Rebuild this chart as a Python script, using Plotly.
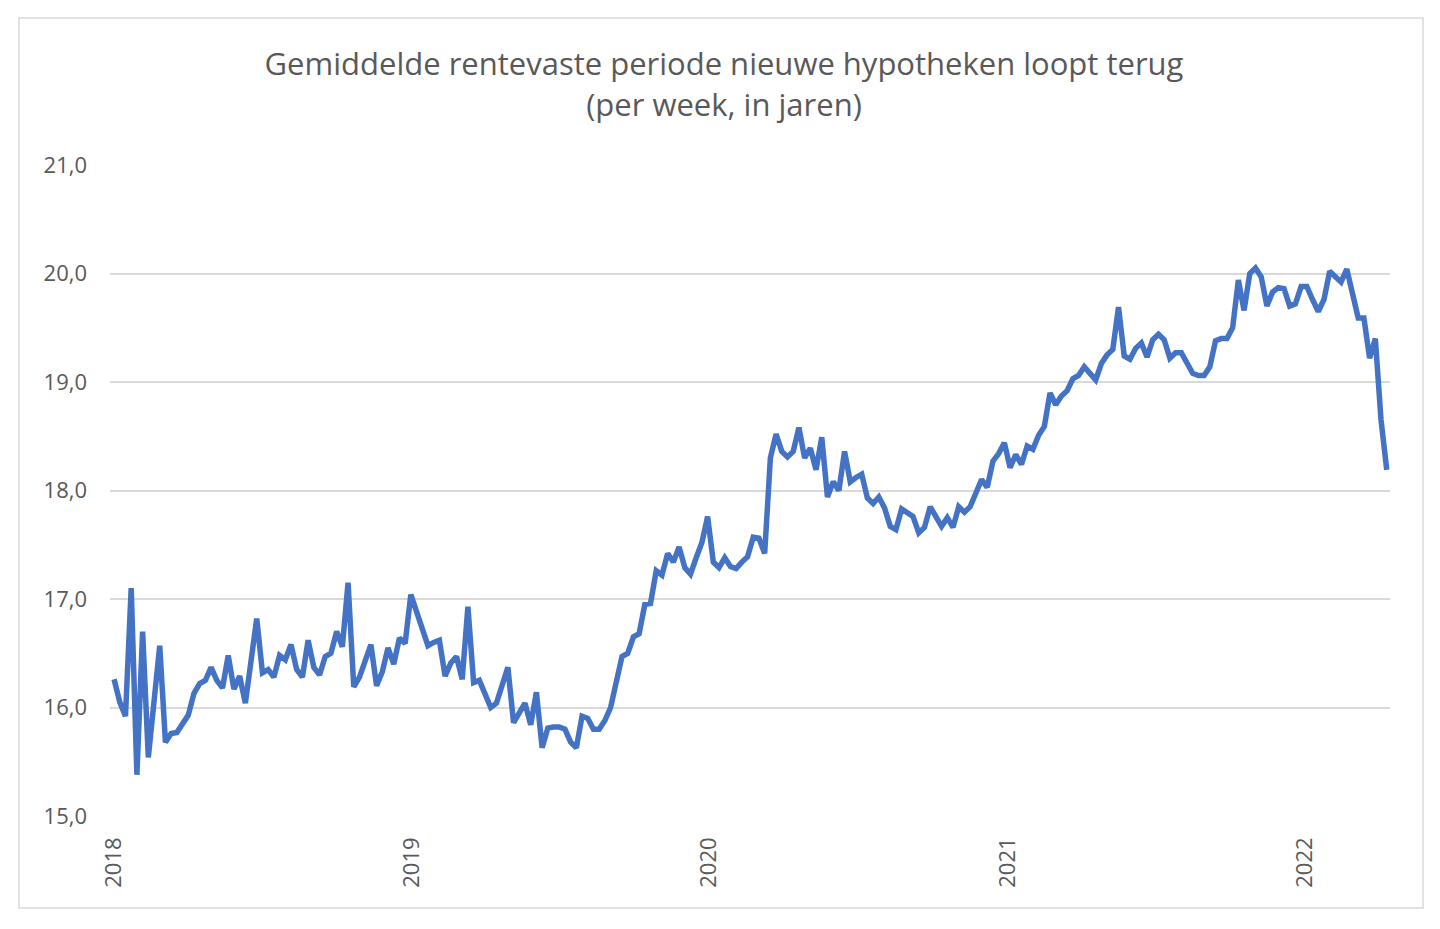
import pandas as pd
import plotly.graph_objects as go

# gemiddelde rentevaste periode per week (jaren), vanaf week 1 van 2018
start_datum = "2018-01-01"
rentevast_jaren = [
    16.26, 16.05, 15.92, 17.10, 15.38, 16.70, 15.54, 16.05, 16.57, 15.68,
    15.76, 15.77, 15.86, 15.93, 16.13, 16.22, 16.25, 16.37, 16.25, 16.18,
    16.48, 16.17, 16.29, 16.04, 16.43, 16.82, 16.32, 16.35, 16.28, 16.48,
    16.44, 16.58, 16.35, 16.28, 16.62, 16.37, 16.30, 16.47, 16.50, 16.70,
    16.56, 17.15, 16.19, 16.28, 16.43, 16.58, 16.20, 16.33, 16.55, 16.40,
    16.64, 16.59, 17.04, 16.88, 16.72, 16.57, 16.60, 16.62, 16.29, 16.41,
    16.47, 16.26, 16.93, 16.23, 16.25, 16.13, 16.00, 16.04, 16.20, 16.37,
    15.86, 15.96, 16.04, 15.84, 16.14, 15.63, 15.81, 15.82, 15.82, 15.80,
    15.68, 15.63, 15.92, 15.90, 15.80, 15.80, 15.88, 16.00, 16.25, 16.47,
    16.50, 16.65, 16.68, 16.95, 16.96, 17.26, 17.22, 17.42, 17.34, 17.48,
    17.29, 17.23, 17.38, 17.52, 17.76, 17.34, 17.29, 17.38, 17.30, 17.28,
    17.34, 17.39, 17.57, 17.56, 17.42, 18.30, 18.52, 18.36, 18.31, 18.36,
    18.58, 18.30, 18.39, 18.19, 18.49, 17.94, 18.08, 18.00, 18.36, 18.08,
    18.12, 18.15, 17.93, 17.88, 17.94, 17.84, 17.67, 17.64, 17.83, 17.79,
    17.76, 17.61, 17.66, 17.85, 17.76, 17.67, 17.75, 17.66, 17.85, 17.80,
    17.85, 17.98, 18.10, 18.03, 18.27, 18.34, 18.44, 18.21, 18.33, 18.24,
    18.41, 18.38, 18.51, 18.59, 18.90, 18.79, 18.87, 18.92, 19.03, 19.06,
    19.14, 19.08, 19.02, 19.17, 19.25, 19.30, 19.69, 19.24, 19.21, 19.31,
    19.36, 19.23, 19.39, 19.44, 19.39, 19.22, 19.27, 19.27, 19.18, 19.08,
    19.06, 19.06, 19.14, 19.38, 19.40, 19.40, 19.50, 19.94, 19.66, 20.00,
    20.05, 19.97, 19.70, 19.83, 19.87, 19.86, 19.70, 19.72, 19.88, 19.88,
    19.76, 19.65, 19.76, 20.02, 19.97, 19.92, 20.04, 19.83, 19.59, 19.59,
    19.22, 19.40, 18.65, 18.19,
]
weken = pd.date_range(start_datum, periods=len(rentevast_jaren), freq="7D")

jaar_ticks = ["2018-01-01", "2019-01-01", "2020-01-01", "2021-01-01", "2022-01-01"]
jaar_labels = ["2018", "2019", "2020", "2021", "2022"]
y_ticks = [15, 16, 17, 18, 19, 20, 21]

grijs = "#595959"

fig = go.Figure()
fig.add_trace(go.Scatter(
    x=weken, y=rentevast_jaren, mode="lines",
    line=dict(color="#4472C4", width=5.5),
    showlegend=False,
))

# de pagina heeft 8px marge rondom, daarom iets kleiner en verschoven
fig.update_layout(
    width=1432, height=921,
    paper_bgcolor="white", plot_bgcolor="white",
    margin=dict(l=102, r=50, t=157, b=113),
    separators=",.",
    font=dict(family="Open Sans, Liberation Sans, sans-serif", color=grijs),
    title=dict(
        text="Gemiddelde rentevaste periode nieuwe hypotheken loopt terug<br>(per week, in jaren)",
        x=0.5, xanchor="center", y=0.927, yanchor="top",
        font=dict(size=31, color=grijs),
    ),
    shapes=[dict(
        type="rect", xref="paper", yref="paper",
        x0=-0.0711, x1=1.0258, y0=-0.1413, y1=1.2258,
        line=dict(color="#d9d9d9", width=1.5), layer="below",
    )],
)

fig.update_xaxes(
    range=["2017-12-27", "2022-04-15"],
    tickvals=jaar_ticks, ticktext=jaar_labels,
    tickangle=-90, tickfont=dict(size=22, color=grijs),
    showgrid=False, zeroline=False,
    showline=False, ticks="", ticklabelstandoff=16,
)
fig.update_yaxes(
    range=[15, 21], tickvals=y_ticks, tickformat=".1f",
    tickfont=dict(size=22, color=grijs),
    showgrid=True, gridcolor="#d9d9d9", gridwidth=2,
    zeroline=False, showline=False, ticks="", ticklabelstandoff=22,
)

fig.write_html("out.html")
